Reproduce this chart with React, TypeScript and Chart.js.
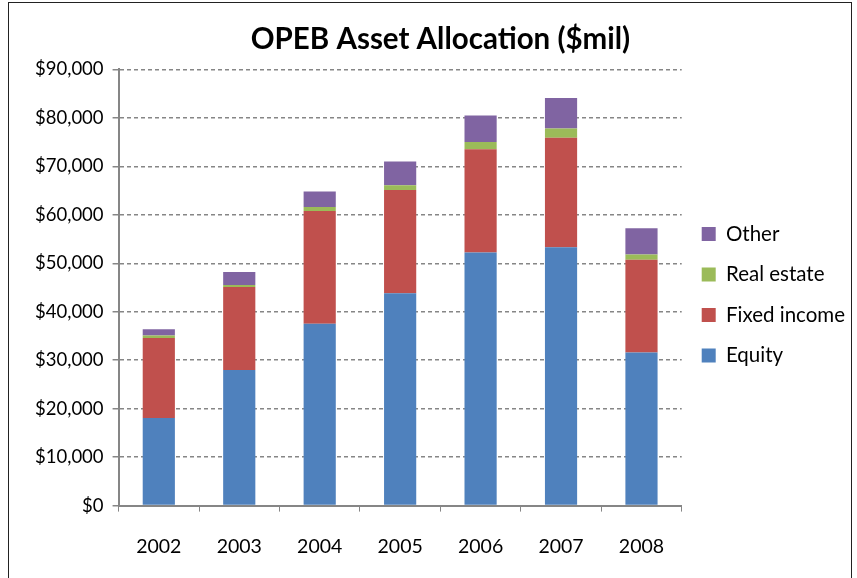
import React, { useEffect, useRef } from "react";
import { Chart, registerables } from "chart.js";

Chart.register(...registerables);

const years = ["2002", "2003", "2004", "2005", "2006", "2007", "2008"];
const equity = [18100, 28000, 37500, 43800, 52200, 53300, 31600];
const fixedIncome = [16500, 17100, 23300, 21300, 21300, 22600, 19100];
const realEstate = [500, 400, 800, 1000, 1500, 1900, 1100];
const other = [1300, 2700, 3200, 4900, 5500, 6300, 5400];
const yTicks = [0, 10000, 20000, 30000, 40000, 50000, 60000, 70000, 80000, 90000];

const FONT = "Lato, 'Open Sans', sans-serif";

export default function App() {
  const ref = useRef<HTMLCanvasElement | null>(null);
  useEffect(() => {
    if (!ref.current) return;
    const chart = new Chart(ref.current, {
      type: "bar",
      data: {
        labels: years,
        datasets: [
          { label: "Equity", data: equity, backgroundColor: "#4F81BD" },
          { label: "Fixed income", data: fixedIncome, backgroundColor: "#C0504D" },
          { label: "Real estate", data: realEstate, backgroundColor: "#9BBB59" },
          { label: "Other", data: other, backgroundColor: "#8064A2" },
        ],
      },
      options: {
        animation: false,
        responsive: false,
        maintainAspectRatio: false,
        datasets: { bar: { barPercentage: 0.4, categoryPercentage: 1 } },
        layout: { padding: { left: 17, right: -4, top: 8, bottom: 12 } },
        plugins: {
          title: {
            display: true,
            text: "OPEB Asset Allocation ($mil)",
            color: "#000",
            font: { family: FONT, size: 29.5, weight: "bold" },
            padding: { top: 11, bottom: 12 },
          },
          legend: {
            position: "right",
            reverse: true,
            title: { display: true, text: " ", font: { size: 3 }, padding: { top: -6, bottom: 0 } },
            labels: {
              color: "#000",
              font: { family: FONT, size: 20.5 },
              boxWidth: 14,
              boxHeight: 14,
              padding: 20,
            },
          },
          tooltip: { enabled: false },
        },
        scales: {
          x: {
            stacked: true,
            grid: { display: true, drawOnChartArea: false, drawTicks: true, tickLength: 6, color: "#868686", offset: true },
            border: { display: true, color: "#868686", width: 2 },
            ticks: { color: "#000", font: { family: FONT, size: 19.5 }, padding: 23 },
          },
          y: {
            stacked: true,
            min: 0,
            max: 90000,
            afterBuildTicks: (scale: any) => {
              scale.ticks = yTicks.map((v) => ({ value: v }));
            },
            grid: { color: "#868686", lineWidth: 1.5, tickLength: 6 },
            border: { display: true, color: "#868686", width: 2, dash: [4, 3] },
            ticks: {
              color: "#000",
              font: { family: FONT, size: 18.5 },
              padding: 9,
              callback: (v: any) => "$" + Number(v).toLocaleString("en-US"),
            },
          },
        },
      },
    });
    return () => chart.destroy();
  }, []);
  return (
    <div
      style={{
        position: "absolute",
        left: 8,
        top: 2,
        width: 844,
        height: 600,
        border: "1.5px solid #222",
        boxSizing: "border-box",
        background: "#fff",
        overflow: "hidden",
      }}
    >
      <canvas ref={ref} width={842} height={590} style={{ display: "block" }} />
    </div>
  );
}
